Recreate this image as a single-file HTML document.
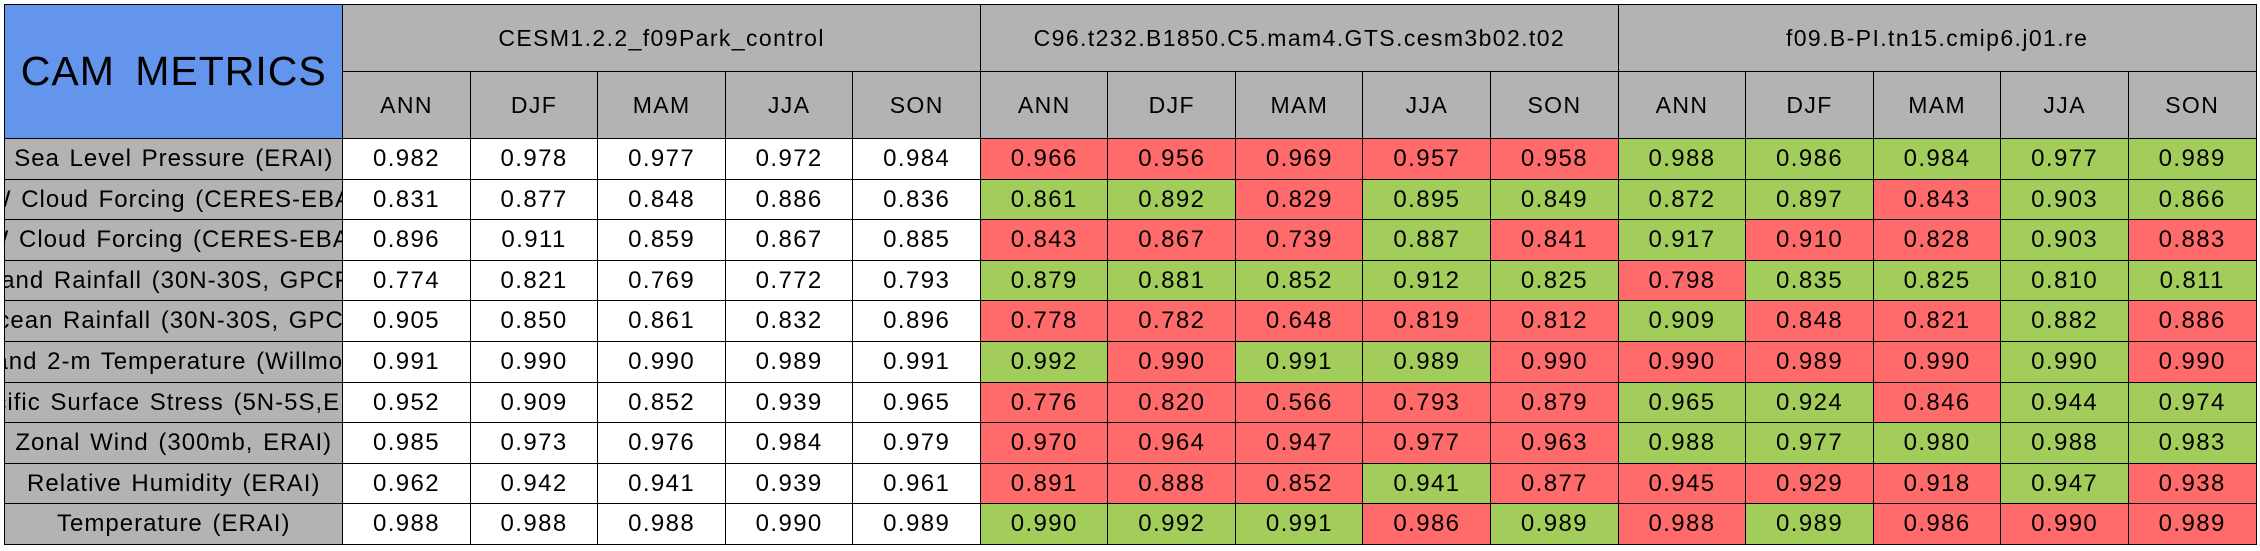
<!DOCTYPE html>
<html><head><meta charset="utf-8">
<style>
html,body{margin:0;padding:0;background:#fff;width:2260px;height:551px;overflow:hidden}
#tbl{position:relative;width:2260px;height:551px;font-family:"Liberation Sans",sans-serif;color:#000}
.c{position:absolute;box-sizing:border-box;border:1.5px solid #000;display:flex;align-items:center;justify-content:center;overflow:hidden;white-space:nowrap;letter-spacing:1.4px}
.v{font-size:24px}
.lab{font-size:24px;letter-spacing:1.0px;word-spacing:2px;background:#b3b3b3}
.hd{background:#b3b3b3;font-size:23px}
.title{background:#6495ed;font-size:41px;letter-spacing:1px;word-spacing:8px}
.r{background:#ff6a6a}.g{background:#a2cd5a}.w{background:#fff}
</style></head>
<body>
<div id="tbl"></div>
<script>
const metrics=["Sea Level Pressure (ERAI)","SW Cloud Forcing (CERES-EBAF)","LW Cloud Forcing (CERES-EBAF)","Land Rainfall (30N-30S, GPCP)","Ocean Rainfall (30N-30S, GPCP)","Land 2-m Temperature (Willmott)","Pacific Surface Stress (5N-5S,ERS)","Zonal Wind (300mb, ERAI)","Relative Humidity (ERAI)","Temperature (ERAI)"];
const cases=["CESM1.2.2_f09Park_control","C96.t232.B1850.C5.mam4.GTS.cesm3b02.t02","f09.B-PI.tn15.cmip6.j01.re"];
const seasons=["ANN","DJF","MAM","JJA","SON"];
const case1Values=[
[0.982,0.978,0.977,0.972,0.984],[0.831,0.877,0.848,0.886,0.836],[0.896,0.911,0.859,0.867,0.885],
[0.774,0.821,0.769,0.772,0.793],[0.905,0.850,0.861,0.832,0.896],[0.991,0.990,0.990,0.989,0.991],
[0.952,0.909,0.852,0.939,0.965],[0.985,0.973,0.976,0.984,0.979],[0.962,0.942,0.941,0.939,0.961],
[0.988,0.988,0.988,0.990,0.989]];
const case2Values=[
[0.966,0.956,0.969,0.957,0.958],[0.861,0.892,0.829,0.895,0.849],[0.843,0.867,0.739,0.887,0.841],
[0.879,0.881,0.852,0.912,0.825],[0.778,0.782,0.648,0.819,0.812],[0.992,0.990,0.991,0.989,0.990],
[0.776,0.820,0.566,0.793,0.879],[0.970,0.964,0.947,0.977,0.963],[0.891,0.888,0.852,0.941,0.877],
[0.990,0.992,0.991,0.986,0.989]];
const case2Colors=["rrrrr","ggrgg","rrrgr","ggggg","rrrrr","grggr","rrrrr","rrrrr","rrrgr","gggrg"];
const case3Values=[
[0.988,0.986,0.984,0.977,0.989],[0.872,0.897,0.843,0.903,0.866],[0.917,0.910,0.828,0.903,0.883],
[0.798,0.835,0.825,0.810,0.811],[0.909,0.848,0.821,0.882,0.886],[0.990,0.989,0.990,0.990,0.990],
[0.965,0.924,0.846,0.944,0.974],[0.988,0.977,0.980,0.988,0.983],[0.945,0.929,0.918,0.947,0.938],
[0.988,0.989,0.986,0.990,0.989]];
const case3Colors=["ggggg","ggrgg","grrgr","rgggg","grrgr","rrrgr","ggrgg","ggggg","rrrgr","rgrrr"];

const T=document.getElementById('tbl');
const X0=4,LX=342,CW=127.55,Y0=4,H1=71,H2=138,RH=40.6;
function cell(x,y,w,h,cls,txt){
  const d=document.createElement('div');
  d.className='c '+cls;
  d.style.left=x+'px';d.style.top=y+'px';d.style.width=(w+1.5)+'px';d.style.height=(h+1.5)+'px';
  d.textContent=txt;T.appendChild(d);return d;
}
let t=cell(X0,Y0,LX-X0,H2-Y0,'title','CAM METRICS');


cases.forEach((cn,ci)=>{
  const h=cell(LX+ci*5*CW,Y0,5*CW,H1-Y0,'hd',cn);
  
  
  seasons.forEach((s,si)=>{
    const e=cell(LX+(ci*5+si)*CW,H1,CW,H2-H1,'hd v',s);
    
    
  });
});
const allVals=[case1Values,case2Values,case3Values];
const allCols=[null,case2Colors,case3Colors];
metrics.forEach((m,ri)=>{
  const y=H2+ri*RH;
  const l=cell(X0,y,LX-X0,RH,'lab','');
  const sp=document.createElement('span');sp.textContent=m;l.appendChild(sp);
  
  
  allVals.forEach((vals,ci)=>{
    vals[ri].forEach((v,si)=>{
      const col=allCols[ci]?allCols[ci][ri][si]:'w';
      const e=cell(LX+(ci*5+si)*CW,y,CW,RH,'v '+col,v.toFixed(3));
      
      
    });
  });
});
</script>
</body></html>
